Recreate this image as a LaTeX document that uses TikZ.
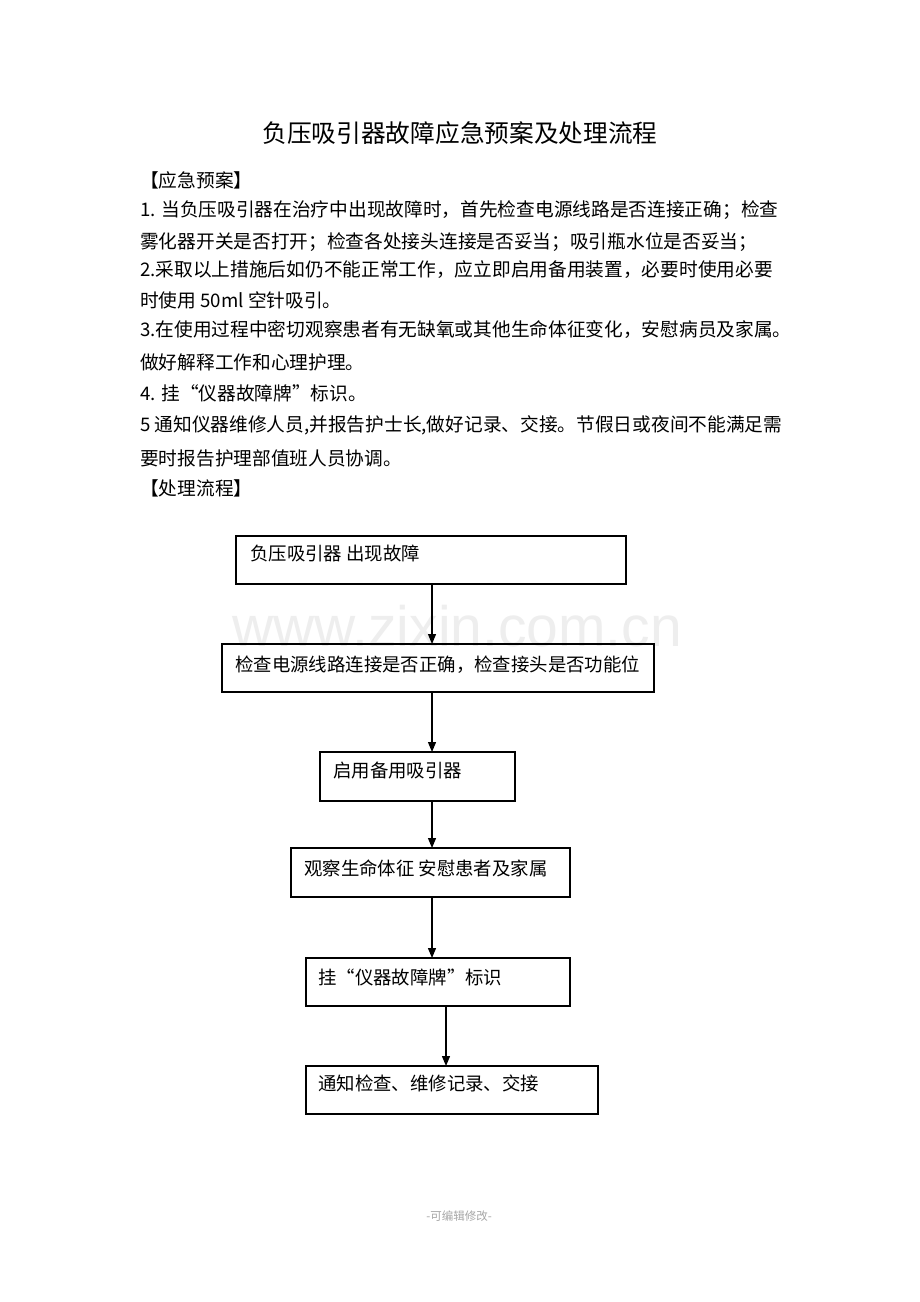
\documentclass[tikz,border=0pt]{standalone}
\usepackage{fontspec}
\setmainfont{Liberation Sans}
\newfontfamily\cjk{Noto Sans CJK SC}
\usetikzlibrary{arrows.meta,calc}
\begin{document}
\begin{tikzpicture}[x=1pt,y=-1pt,
  box/.style={draw=black,line width=1.2pt,inner sep=0pt,outer sep=0pt,rectangle},
  boxtext/.style={font=\cjk\fontsize{18.4pt}{22pt}\selectfont,anchor=west,inner sep=0pt},
  body/.style={font=\cjk\fontsize{18.7pt}{22pt}\selectfont,anchor=west,inner sep=0pt},
  arr/.style={line width=1.2pt,-{Triangle[length=10pt,width=8pt]}}]
\useasboundingbox[fill=white] (0,0) rectangle (920,1302);
% watermark
\node[anchor=base west,inner sep=0pt,text=gray!13,font=\fontsize{57pt}{64pt}\selectfont] (wm) at (232,646) {www.zixin.com.cn};
% title
\node[font=\cjk\fontsize{24.7pt}{28pt}\selectfont,inner sep=0pt] (title) at (460,133) {负压吸引器故障应急预案及处理流程};
% body text
\node[body] (h1) at (140,180) {【应急预案】};
\node[body] (l1) at (140,210) {1. 当负压吸引器在治疗中出现故障时，首先检查电源线路是否连接正确；检查};
\node[body] (l2) at (140,242) {雾化器开关是否打开；检查各处接头连接是否妥当；吸引瓶水位是否妥当；};
\node[body] (l3) at (140,270) {2.采取以上措施后如仍不能正常工作，应立即启用备用装置，必要时使用必要};
\node[body] (l4) at (140,300) {时使用 50ml 空针吸引。};
\node[body] (l5) at (140,330) {3.在使用过程中密切观察患者有无缺氧或其他生命体征变化，安慰病员及家属。};
\node[body] (l6) at (140,362) {做好解释工作和心理护理。};
\node[body] (l7) at (140,393) {4. 挂“仪器故障牌”标识。};
\node[body] (l8) at (140,425) {5 通知仪器维修人员,并报告护士长,做好记录、交接。节假日或夜间不能满足需};
\node[body] (l9) at (140,458) {要时报告护理部值班人员协调。};
\node[body] (h2) at (140,488) {【处理流程】};
% flow boxes
\node[box,minimum width=390pt,minimum height=48pt] (b1) at (431,560) {};
\node[box,minimum width=432pt,minimum height=48pt] (b2) at (438,668) {};
\node[box,minimum width=195pt,minimum height=49pt] (b3) at (417.5,776.5) {};
\node[box,minimum width=279pt,minimum height=49pt] (b4) at (430.5,872.5) {};
\node[box,minimum width=264pt,minimum height=48pt] (b5) at (438,982) {};
\node[box,minimum width=292pt,minimum height=48pt] (b6) at (452,1090) {};
\node[boxtext] (t1) at ($(b1.north west)+(14,17)$) {负压吸引器 出现故障};
\node[boxtext] (t2) at ($(b2.north west)+(13,21)$) {检查电源线路连接是否正确，检查接头是否功能位};
\node[boxtext] (t3) at ($(b3.north west)+(13,19)$) {启用备用吸引器};
\node[boxtext] (t4) at ($(b4.north west)+(13,20)$) {观察生命体征 安慰患者及家属};
\node[boxtext] (t5) at ($(b5.north west)+(12,19)$) {挂“仪器故障牌”标识};
\node[boxtext] (t6) at ($(b6.north west)+(12,17)$) {通知检查、维修记录、交接};
% connectors
\coordinate (ax) at (432,0);
\coordinate (bx) at (446,0);
\draw[arr] (b1.south -| ax) -- (b2.north -| ax);
\draw[arr] (b2.south -| ax) -- (b3.north -| ax);
\draw[arr] (b3.south -| ax) -- (b4.north -| ax);
\draw[arr] (b4.south -| ax) -- (b5.north -| ax);
\draw[arr] (b5.south -| bx) -- (b6.north -| bx);
% footer
\node[font=\cjk\fontsize{11.5pt}{14pt}\selectfont,text=gray!70,inner sep=0pt] (foot) at (459,1216) {-可编辑修改-};
\end{tikzpicture}
\end{document}
